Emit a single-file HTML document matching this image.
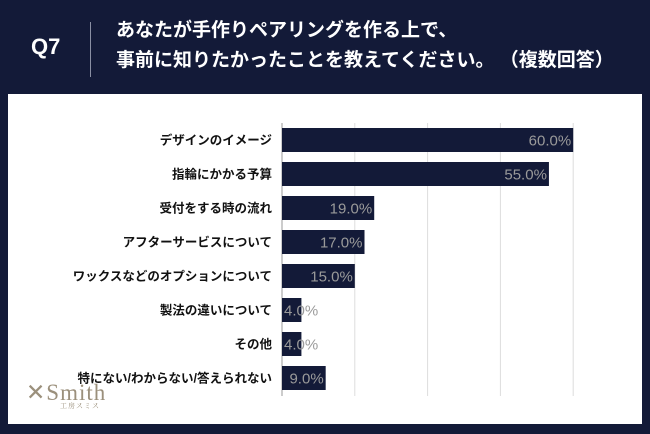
<!DOCTYPE html>
<html><head><meta charset="utf-8">
<style>
body{margin:0;width:650px;height:434px;background:#131a38;overflow:hidden;font-family:"Liberation Sans","Noto Sans CJK JP",sans-serif;position:relative}
.abs{position:absolute}
</style></head><body>
<div class="abs" style="left:31px;top:34px;color:#fff;font-size:22px;font-weight:bold">Q7</div>
<div class="abs" style="left:90px;top:22px;width:1px;height:55px;background:#8a8fa3"></div>
<div class="abs" style="left:116px;top:16px;color:#fff;font-size:19px;font-weight:bold;line-height:30px;font-family:'Liberation Sans','Noto Sans CJK JP',sans-serif">あなたが手作りペアリングを作る上で、<br>事前に知りたかったことを教えてください。 （複数回答）</div>
<div class="abs" style="left:8px;top:94px;width:634px;height:330px;background:#fff"></div>
<svg class="abs" style="left:0;top:0" width="650" height="434">
<g id="g"></g>
</svg>
<div class="abs" style="left:26px;top:380px;color:#9b907c;font-family:'Liberation Serif',serif;font-size:23px;letter-spacing:1px">✕Smith<div style="font-size:7px;margin-left:34px;margin-top:-5px;font-family:'Noto Serif CJK SC',serif">工房スミス</div></div>
<script>
const categories=["デザインのイメージ","指輪にかかる予算","受付をする時の流れ","アフターサービスについて","ワックスなどのオプションについて","製法の違いについて","その他","特にない/わからない/答えられない"];
const values=[60,55,19,17,15,4,4,9];
const ticks=[0,15,30,45,60];
const x0=282,pxPer=72.8/15,top0=128,step=34,bh=24;
const xs=v=>x0+v*pxPer;
const g=document.getElementById('g');
const NS='http://www.w3.org/2000/svg';
function mk(t,a){const e=document.createElementNS(NS,t);for(const k in a)e.setAttribute(k,a[k]);g.appendChild(e);return e;}
ticks.forEach(t=>{const l=mk('line',{x1:xs(t),x2:xs(t),y1:123,y2:396,stroke:t===0?'#999':'#ddd','stroke-width':1});

});
categories.forEach((c,i)=>{const y=top0+i*step;
const r=mk('rect',{x:x0,y:y,width:xs(values[i])-x0,height:bh,fill:'#131a38'});


const lb=mk('text',{x:272,y:y+bh/2+4.5,'text-anchor':'end','font-size':12.5,'font-weight':'bold',fill:'#111'});
lb.textContent=c;


const vx=values[i]<8?x0+2:xs(values[i])-2;
const vt=mk('text',{x:vx,y:y+bh/2+5.5,'text-anchor':values[i]<8?'start':'end','font-size':15,fill:'#9a9a9a'});
vt.textContent=values[i].toFixed(1)+'%';

});
</script>
</body></html>
